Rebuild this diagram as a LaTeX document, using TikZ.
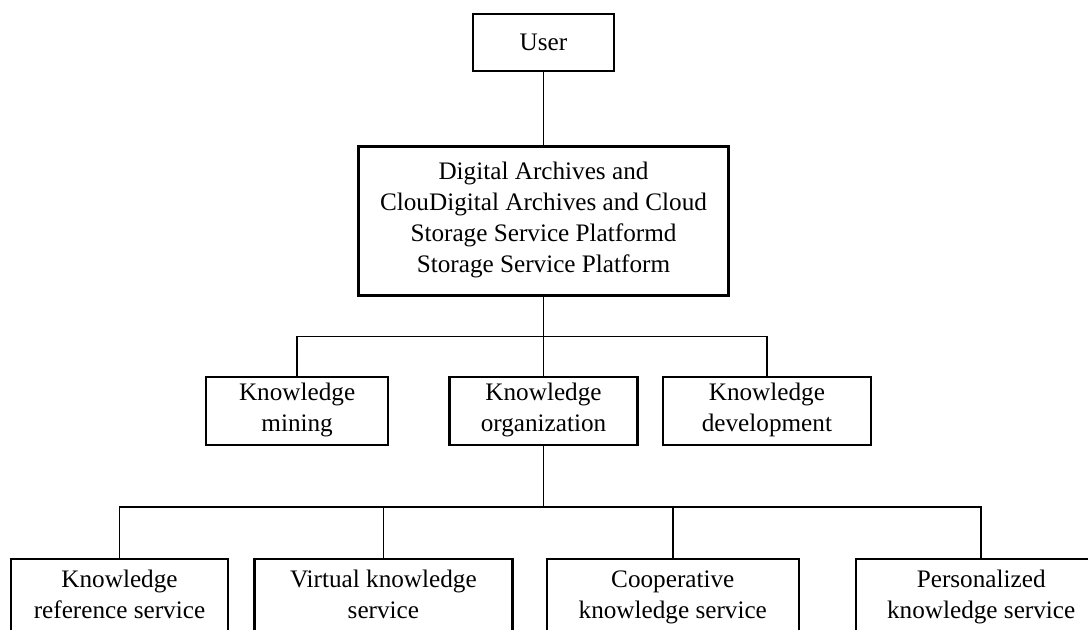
\documentclass[tikz,border=0pt]{standalone}
\usepackage{fontspec}
\setmainfont{Liberation Serif}
\usetikzlibrary{positioning}
\newcommand\boxstrut{\rule[-3.3pt]{0pt}{14.8pt}}
\tikzset{
    box/.style={draw,line width=1.2pt,align=center,inner sep=2pt,
        font=\fontsize{12.6}{15.5}\selectfont,
        execute at begin node=\boxstrut,execute at end node=\boxstrut},
    link/.style={line width=0.8pt},
    branch/.style={line width=0.8pt,
        to path={(\tikztostart.south) -- ++(0pt,-#1) -| (\tikztotarget.north)}}
}

\begin{document}
\begin{tikzpicture}
                [x=0.5pt,y=0.5pt,
                 module/.style={box,minimum height=34pt},
                 service/.style={box,minimum height=38.5pt}]

                \useasboundingbox (0,0) rectangle (1088,-630);
                \clip (0,0) rectangle (1088,-630);

                \node[box,minimum width=70.5pt,minimum height=28.5pt] (user) at (543.5,-42.5) {User};

                \node[box,minimum width=185pt,minimum height=74.5pt] (platform) [below=36.5pt of user]
                    {Digital Archives and\\ClouDigital Archives and Cloud\\Storage Service Platformd\\Storage Service Platform}
                    edge[link] (user);

                % second level
                \node[module,minimum width=94pt]  (organization) [below=39.5pt of platform]    {Knowledge\\organization};
                \node[module,minimum width=91pt]  (mining)       [left=29.5pt of organization] {Knowledge\\mining};
                \node[module,minimum width=104pt] (development)  [right=11.5pt of organization] {Knowledge\\development};

                \path (platform)
                    edge[branch=20pt] (mining)
                    edge[branch=20pt] (organization)
                    edge[branch=20pt] (development);

                % services
                \node[service,minimum width=108.5pt] (reference)    at (119.5,-597.5)            {Knowledge\\reference service};
                \node[service,minimum width=129pt]   (virtual)      [right=12pt of reference]    {Virtual knowledge\\service};
                \node[service,minimum width=126pt]   (cooperative)  [right=16pt of virtual]      {Cooperative\\knowledge service};
                \node[service,minimum width=125pt]   (personalized) [right=27.5pt of cooperative] {Personalized\\knowledge service};

                \path (organization)
                    edge[branch=30.5pt] (reference)
                    edge[branch=30.5pt] (virtual)
                    edge[branch=30.5pt] (cooperative)
                    edge[branch=30.5pt] (personalized);

            \end{tikzpicture}
\end{document}
